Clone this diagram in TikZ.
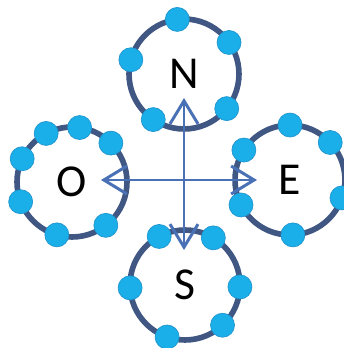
\documentclass[tikz,border=0pt]{standalone}
\usepackage{fontspec}
\setmainfont{Carlito}
\usetikzlibrary{arrows.meta,positioning}
\definecolor{ringblue}{HTML}{3F5782}
\definecolor{beadblue}{HTML}{1AAFE9}
\definecolor{beadedge}{HTML}{2196CF}
\definecolor{arrowblue}{HTML}{4A70B5}
\tikzset{
  ring/.style    = {circle, draw=ringblue, line width=3.2pt, fill=white,
                    minimum size=2.2cm, inner sep=0pt, outer sep=0pt,
                    font=\fontsize{26}{30}\selectfont},
  bead/.style    = {circle, fill=beadblue, draw=beadedge, line width=0.4pt,
                    inner sep=0pt, minimum size=0.48cm},
  pointer/.style = {{Straight Barb[length=4.6mm,width=5.6mm]}-{Straight Barb[length=4.6mm,width=5.6mm]},
                    draw=arrowblue, line width=1.7pt},
}

\begin{document}
\begin{tikzpicture}[x=0.02cm,y=-0.02cm]
  \useasboundingbox (0,0) rectangle (344,348);

  % the four rings
  \node[ring] (N) at (184,74)  {N};
  \node[ring] (O) at (72,182)  {O};
  \node[ring] (E) at (290,180) {E};
  \node[ring] (S) at (185,285) {S};

  % beads on each ring
  \foreach \a in {97,35,-39,-124,165} \node[bead] at (N.\a) {};
  \foreach \a in {82,118,155,201,45,-52,-106} \node[bead] at (O.\a) {};
  \foreach \a in {90,147,43,-19,207,-87} \node[bead] at (E.\a) {};
  \foreach \a in {118,59,183,-2,-47,-109} \node[bead] at (S.\a) {};

  % compass arrows
  \coordinate (tipN) at (184,98);
  \coordinate (tipS) at (184,250);
  \coordinate (tipO) at (101,180);
  \coordinate (tipE) at (257,180);
  \draw[pointer] (tipS) -- (tipN);
  \draw[pointer] (tipO) -- (tipE);
\end{tikzpicture}
\end{document}
